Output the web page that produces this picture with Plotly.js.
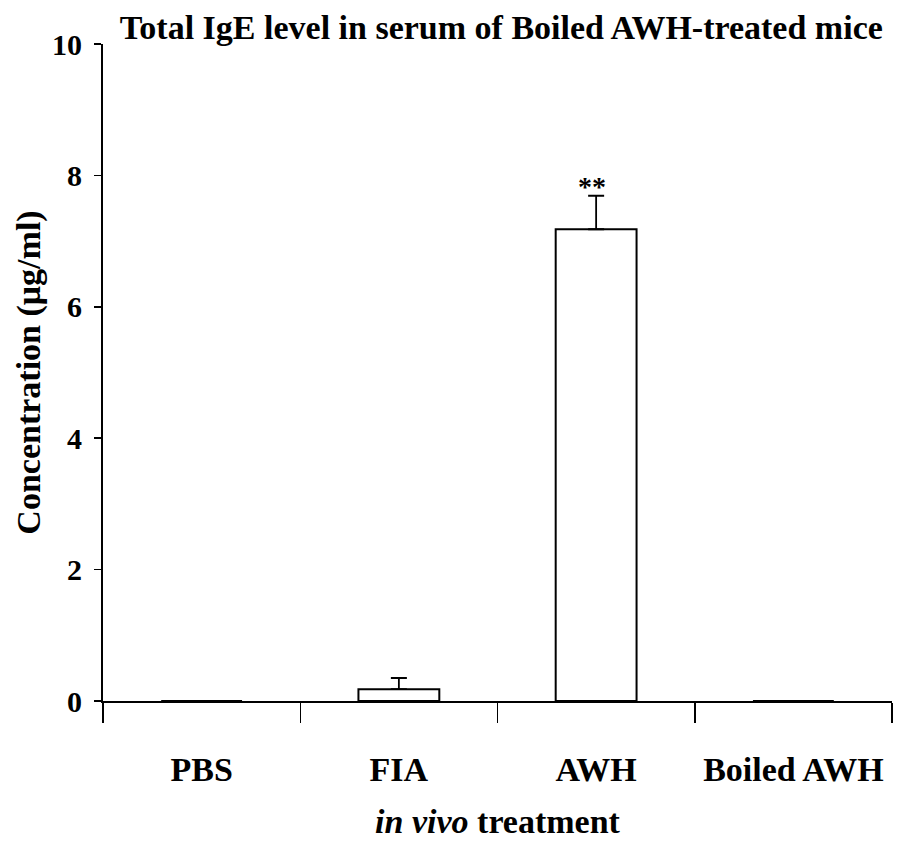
<!DOCTYPE html>
<html>
<head>
<meta charset="utf-8">
<script src="https://cdn.plot.ly/plotly-3.0.1.min.js"></script>
<style>html,body{margin:0;padding:0;background:#fff;}#chart{width:900px;height:843px;}</style>
</head>
<body>
<div id="chart"></div>
<script>
const categories = ["PBS", "FIA", "AWH", "Boiled AWH"];
const concentration = [0, 0.18, 7.18, 0];
const errorUp = [0, 0.17, 0.51, 0];
const yTicks = [0, 2, 4, 6, 8, 10];
const significance = ["", "", "**", ""];

const font = "Liberation Serif, Times New Roman, serif";

const trace = {
  type: "bar",
  x: categories,
  y: concentration,
  width: 0.41,
  marker: {color: "#ffffff", line: {color: "#000000", width: 2}},
  error_y: {type: "data", symmetric: false, array: errorUp, arrayminus: [0,0,0,0],
            color: "#000000", thickness: 1.8, width: 8},
  hoverinfo: "skip"
};

const annotations = [];
categories.forEach((c, i) => {
  if (significance[i]) {
    annotations.push({x: c, y: concentration[i] + errorUp[i], xref: "x", yref: "y",
      text: "<b>" + significance[i] + "</b>", showarrow: false, yanchor: "bottom", xshift: -4, yshift: -8,
      font: {family: font, size: 28, color: "#000"}});
  }
});

const layout = {
  width: 900, height: 843,
  margin: {l: 103, r: 8, t: 44, b: 142},
  paper_bgcolor: "#fff", plot_bgcolor: "#fff",
  showlegend: false,
  title: {text: "<b>Total IgE level in serum of Boiled AWH-treated mice</b>", x: 0.557, xanchor: "center",
          y: 0.968, yanchor: "middle", font: {family: font, size: 34, color: "#000"}},
  xaxis: {
    type: "category", range: [-0.5, 3.5], tickson: "boundaries",
    showline: true, linecolor: "#000", linewidth: 2,
    ticks: "outside", ticklen: 20, tickwidth: 1.5, tickcolor: "#000",
    showgrid: false, zeroline: false,
    tickvals: categories, ticktext: categories.map(c => "<b>" + c + "</b>"),
    ticklabelstandoff: 37,
    tickfont: {family: font, size: 34, color: "#000"},
    title: {text: "<b><i>in vivo</i> treatment</b>", standoff: 22, font: {family: font, size: 34, color: "#000"}}
  },
  yaxis: {
    range: [0, 10], tickvals: yTicks, ticktext: yTicks.map(v => "<b>" + v + "</b>"),
    showline: true, linecolor: "#000", linewidth: 2,
    ticks: "outside", ticklen: 7, tickwidth: 1.5, tickcolor: "#000",
    showgrid: false, zeroline: false,
    ticklabelstandoff: 6,
    tickfont: {family: font, size: 30, color: "#000"},
    title: {text: "<b>Concentration (μg/ml)</b>", standoff: 1, font: {family: font, size: 34, color: "#000"}}
  },
  annotations: annotations
};

Plotly.newPlot("chart", [trace], layout, {displayModeBar: false, staticPlot: true});
</script>
</body>
</html>
